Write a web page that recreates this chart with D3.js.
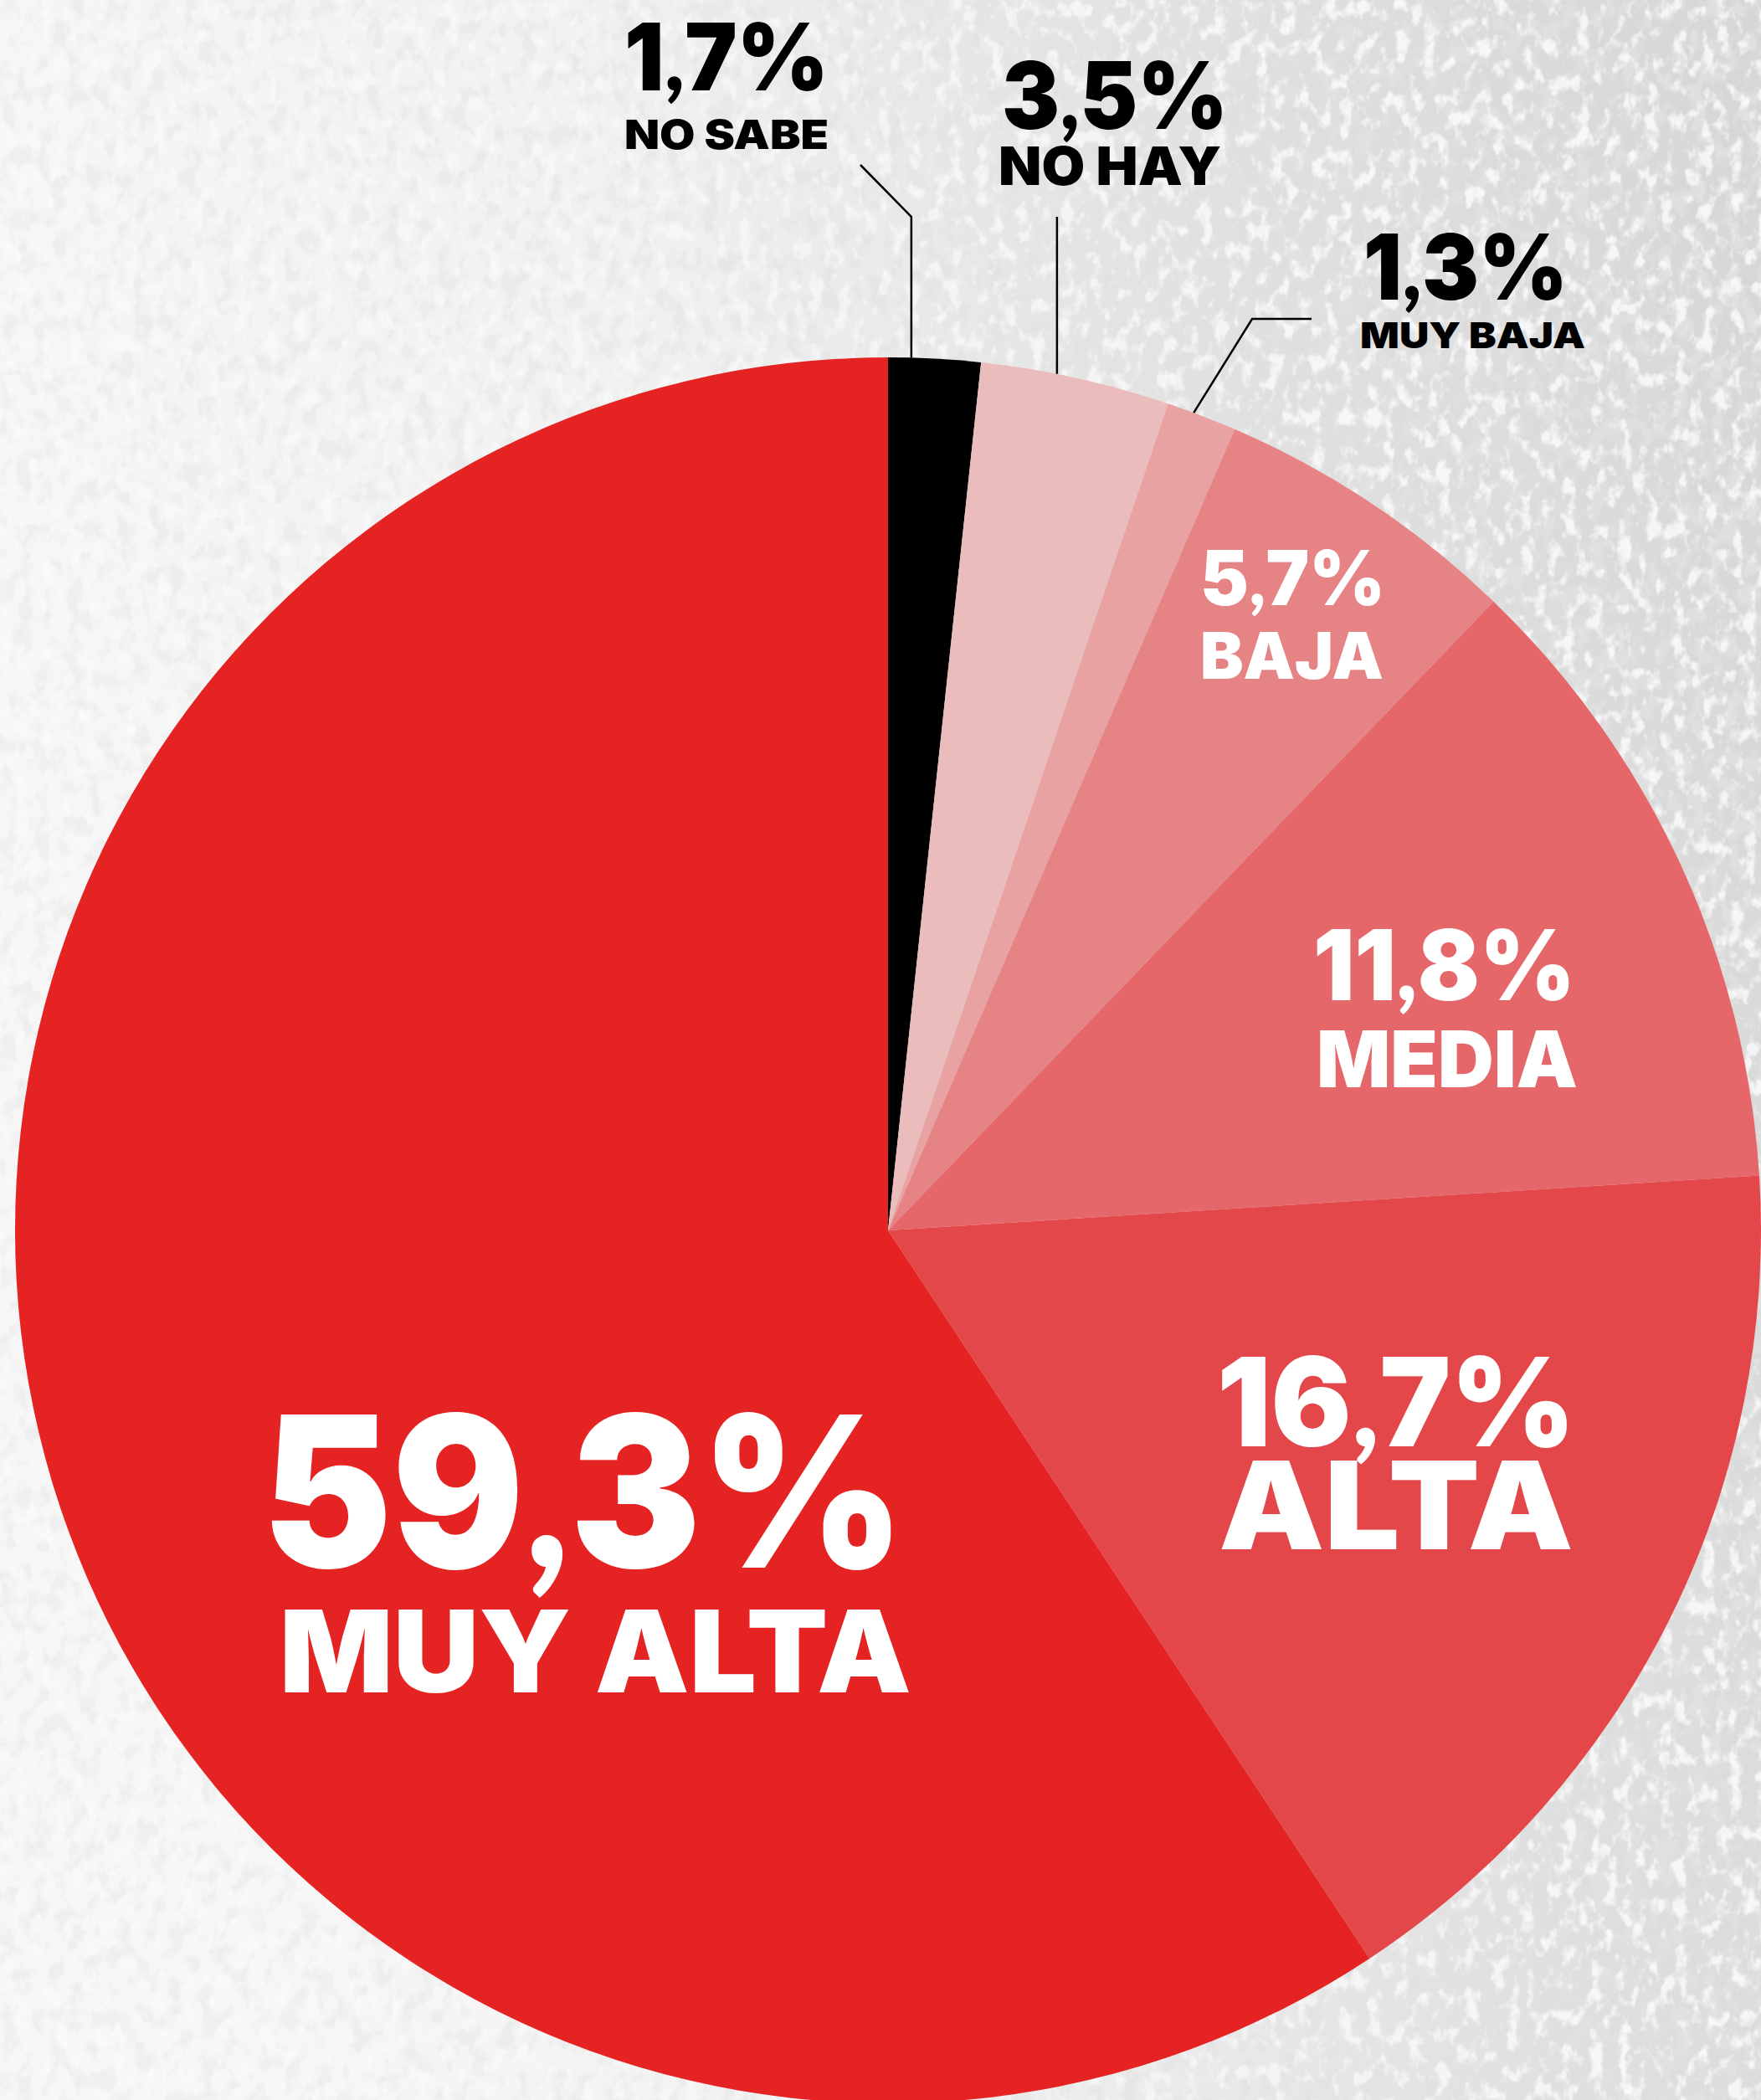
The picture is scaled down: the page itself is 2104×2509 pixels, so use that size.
<!DOCTYPE html>
<html>
<head>
<meta charset="utf-8">
<script src="https://cdn.jsdelivr.net/npm/d3@7"></script>
<style>
  html, body { margin: 0; padding: 0; background: #fafafa; }
  svg { display: block; }
  text { font-family: Inter, Lato, "Open Sans", sans-serif; font-weight: 900; }
  tspan.comma { font-family: Lato, "Open Sans", sans-serif; }
</style>
</head>
<body>
<div id="vis"></div>
<script>
// Data (percent, clockwise from 12 o'clock)
var categories = ["NO SABE", "NO HAY", "MUY BAJA", "BAJA", "MEDIA", "ALTA", "MUY ALTA"];
var values = [1.7, 3.5, 1.3, 5.7, 11.8, 16.7, 59.3];
var valueLabels = ["1,7%", "3,5%", "1,3%", "5,7%", "11,8%", "16,7%", "59,3%"];

// Constants for sizing
var width = 2104;
var height = 2509;
var center = { x: 1061, y: 1470 };
var radius = 1043;

var fillColor = d3.scaleOrdinal()
  .domain(categories)
  .range(["#000000", "#eabcbc", "#e8a2a2", "#e68385", "#e5676a", "#e3474a", "#e52322"]);

// label boxes: x0..x1 (text stretched to fit), baseline y, cap height
var valueBoxes = [
  [746, 990, 108, 81], [1197, 1467, 154, 81], [1629, 1873, 358, 79],
  [1434, 1655, 723, 66], [1569, 1882, 1195, 85], [1454, 1882, 1728, 107],
  [313, 1081, 1873, 183]
];
var nameBoxes = [
  [746, 990, 178, 35], [1193, 1459, 221, 46], [1625, 1894, 416, 31],
  [1434, 1653, 811, 56], [1573, 1885, 1299, 68], [1456, 1880, 1851, 106],
  [334, 1089, 2022, 99]
];
// leader lines for the three outside labels: where they hit the pie (share of slice)
// and the elbow points up to the label
var leaders = [
  { index: 0, at: 0.25, points: [[1028, 197], [null, 259]] },
  { index: 1, at: 0.40, points: [[null, 259]] },
  { index: 2, at: 0.38, points: [[1567, 381], [1496, 381]] }
];
var CAP = 0.727;

var svg = d3.select('#vis')
  .append('svg')
  .attr('width', width)
  .attr('height', height);

// grungy background: white on the left, grey and mottled towards the right
var defs = svg.append('defs');

function gradient(id, stops) {
  var lg = defs.append('linearGradient')
    .attr('id', id)
    .attr('x1', 0).attr('y1', 0.2).attr('x2', 1).attr('y2', 0);
  stops.forEach(function (s) {
    lg.append('stop').attr('offset', s[0]).attr('stop-color', s[1]).attr('stop-opacity', s[2]);
  });
}
gradient('greyTone', [[0, '#d6d6d6', 0.1], [0.35, '#d6d6d6', 0.25], [0.7, '#d4d4d4', 0.7], [1, '#d2d2d2', 0.9]]);
gradient('maskRight', [[0, '#fff', 0.45], [0.4, '#fff', 0.6], [0.75, '#fff', 1], [1, '#fff', 1]]);

var m = defs.append('mask').attr('id', 'rightMask');
m.append('rect').attr('width', width).attr('height', height).attr('fill', 'url(#maskRight)');

function speckle(id, freq, seed, rgb, a, b) {
  var f = defs.append('filter')
    .attr('id', id)
    .attr('x', 0).attr('y', 0).attr('width', '100%').attr('height', '100%');
  f.append('feTurbulence')
    .attr('type', 'fractalNoise')
    .attr('baseFrequency', freq)
    .attr('numOctaves', 3)
    .attr('seed', seed);
  f.append('feColorMatrix')
    .attr('type', 'matrix')
    .attr('values', [
      0, 0, 0, 0, rgb,
      0, 0, 0, 0, rgb,
      0, 0, 0, 0, rgb,
      a, 0, 0, 0, b
    ].join(' '));
}
speckle('greySpeck', '0.05 0.04', 9, 0.76, -5, 2.6);
speckle('whiteSpeck', '0.06 0.045', 4, 1, 5, -2.55);

svg.append('rect').attr('width', width).attr('height', height).attr('fill', '#fafafa');
svg.append('rect').attr('width', width).attr('height', height).attr('fill', 'url(#greyTone)');
svg.append('rect').attr('width', width).attr('height', height)
  .attr('filter', 'url(#greySpeck)').attr('mask', 'url(#rightMask)').attr('opacity', 0.85);
svg.append('rect').attr('width', width).attr('height', height)
  .attr('filter', 'url(#whiteSpeck)').attr('mask', 'url(#rightMask)').attr('opacity', 0.75);

// the pie
var pie = d3.pie().sort(null).value(function (d) { return d; });
var arcs = pie(values);
var arc = d3.arc().innerRadius(0).outerRadius(radius);

var g = svg.append('g')
  .attr('transform', 'translate(' + center.x + ',' + center.y + ')');

g.selectAll('path.slice')
  .data(arcs)
  .enter().append('path')
  .attr('class', 'slice')
  .attr('d', arc)
  .attr('fill', function (d, i) { return fillColor(categories[i]); });

// leader lines
leaders.forEach(function (l) {
  var a = arcs[l.index];
  var ang = a.startAngle + (a.endAngle - a.startAngle) * l.at;
  var edge = [center.x + radius * Math.sin(ang), center.y - radius * Math.cos(ang)];
  var pts = l.points.map(function (p) { return [p[0] === null ? edge[0] : p[0], p[1]]; });
  pts.push(edge);
  svg.append('path')
    .attr('d', d3.line()(pts))
    .attr('fill', 'none')
    .attr('stroke', '#000')
    .attr('stroke-width', 2.5);
});

// labels
function addLabels(boxes, texts) {
  var t = svg.selectAll(null)
    .data(boxes)
    .enter().append('text')
    .attr('x', function (d) { return d[0]; })
    .attr('y', function (d) { return d[2]; })
    .attr('font-size', function (d) { return d[3] / CAP; })
    .attr('textLength', function (d) { return d[1] - d[0]; })
    .attr('lengthAdjust', 'spacingAndGlyphs')
    .attr('fill', function (d, i) { return i < 3 ? '#000' : '#fff'; });

  // the comma is drawn with a shorter tail so it does not run into the line below
  t.each(function (d, i) {
    var parts = texts[i].split(',');
    var el = d3.select(this);
    parts.forEach(function (p, k) {
      if (k > 0) el.append('tspan').attr('class', 'comma').text(',');
      el.append('tspan').text(p);
    });
  });
}
addLabels(valueBoxes, valueLabels);
addLabels(nameBoxes, categories);
</script>
</body>
</html>
